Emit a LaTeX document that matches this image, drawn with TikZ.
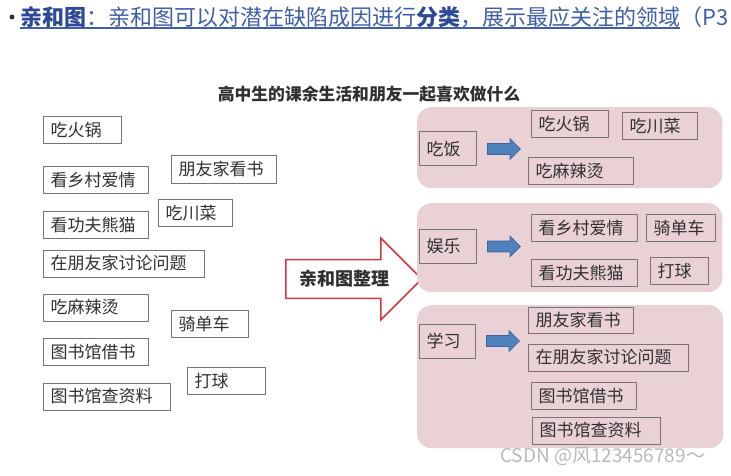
\documentclass[tikz,border=0pt]{standalone}
\usepackage{fontspec}
\setmainfont{Noto Sans CJK SC}
\usetikzlibrary{positioning,shapes.arrows}

\definecolor{headblue}{HTML}{3F5EAA}
\definecolor{headdark}{HTML}{2C4896}
\definecolor{panelpink}{HTML}{E9D1D5}
\definecolor{boxgray}{HTML}{7A7376}
\definecolor{inkgray}{HTML}{303030}
\definecolor{arrowblue}{HTML}{4F81BD}
\definecolor{arrowedge}{HTML}{3A67A3}
\definecolor{arrowred}{HTML}{D8343C}

\begin{document}
\begin{tikzpicture}[x=1pt, y=-1pt,
    tag/.style={draw=boxgray, line width=1pt, fill=white, anchor=west, text width=#1, inner xsep=7pt, inner ysep=0pt, minimum height=27pt, align=left, text=inkgray, font=\fontsize{17}{17}\selectfont},
    sub/.style={tag=#1, fill=none},
    cat/.style={tag=#1, fill=none, minimum height=34pt},
    panel/.style={fill=panelpink, rounded corners=14pt, anchor=north west, inner sep=0pt},
    bluearrow/.style={single arrow, draw=arrowedge, fill=arrowblue, line width=0.8pt, minimum height=33pt, single arrow head extend=5pt, inner xsep=0pt, inner ysep=5pt, anchor=west}
]
\useasboundingbox (0,0) rectangle (731,476);

% heading line
\node[circle, fill=inkgray, inner sep=0pt, minimum size=5pt] (dot) at (12,17) {};
\node[anchor=west, text=headblue, font=\fontsize{22}{22}\selectfont, inner sep=0pt] (head) at (20,17) {\textcolor{headdark}{\bfseries 亲和图}：亲和图可以对潜在缺陷成因进行\textcolor{headdark}{\bfseries 分类}，展示最应关注的领域};
\node[anchor=west, text=headblue, font=\fontsize{22}{22}\selectfont, inner sep=0pt] (page) at (head.east) {（P3};
\draw[headblue, line width=1.5pt] (head.south west) -- (head.south east);

\node[font=\bfseries\fontsize{16.8}{16.8}\selectfont, text=inkgray] (title) at (369,94) {高中生的课余生活和朋友一起喜欢做什么};

% loose cards
\node[tag=64pt] (lhotpot) at (43,130) {吃火锅};
\node[tag=91pt] (lvillage) at (43,180) {看乡村爱情};
\node[tag=91pt] (lreadhome) at (171,169.5) {朋友家看书};
\node[tag=91pt] (lpanda) at (43,224.5) {看功夫熊猫};
\node[tag=60pt] (lsichuan) at (158,213) {吃川菜};
\node[tag=147pt] (ldiscuss) at (43,263.5) {在朋友家讨论问题};
\node[tag=91pt] (lmalatang) at (43,307.5) {吃麻辣烫};
\node[tag=63pt] (lcycling) at (171,324) {骑单车};
\node[tag=91pt] (lborrow) at (43,352) {图书馆借书};
\node[tag=64pt] (lball) at (187,381) {打球};
\node[tag=113pt] (lresearch) at (43,396.5) {图书馆查资料};

% big arrow
\node[single arrow, draw=arrowred, line width=1.5pt, fill=white, minimum height=136pt, single arrow head extend=21.5pt, inner ysep=10pt, anchor=west, text=inkgray, font=\bfseries\fontsize{18}{18}\selectfont] (sort) at (285,279) {亲和图整理};

% groups
\node[panel, minimum width=305pt, minimum height=81pt] (food) at (417,107) {};
\node[panel, minimum width=305pt, minimum height=89pt] (fun) at (417,203) {};
\node[panel, minimum width=306pt, minimum height=143pt] (study) at (417,305) {};

\node[cat=43pt] (eat) at (419,149) {吃饭};
\node[cat=43pt] (play) at (419,246.5) {娱乐};
\node[cat=42pt] (learn) at (419,341) {学习};
\node[bluearrow, right=10pt of eat] (eatto) {};
\node[bluearrow, right=10pt of play] (playto) {};
\node[bluearrow, right=10pt of learn] (learnto) {};

\node[sub=63pt] (rhotpot) at (531,124) {吃火锅};
\node[sub=61pt] (rsichuan) at (622,126) {吃川菜};
\node[sub=91pt] (rmalatang) at (528,171) {吃麻辣烫};
\node[sub=92pt] (rvillage) at (531,228) {看乡村爱情};
\node[sub=55pt] (rcycling) at (646,227.5) {骑单车};
\node[sub=92pt] (rpanda) at (531,273) {看功夫熊猫};
\node[sub=44pt] (rball) at (650,271) {打球};
\node[sub=91pt, minimum height=26pt] (rreadhome) at (528,320) {朋友家看书};
\node[sub=146pt] (rdiscuss) at (528,357.5) {在朋友家讨论问题};
\node[sub=91pt] (rborrow) at (531,396) {图书馆借书};
\node[sub=114pt] (rresearch) at (532,430.5) {图书馆查资料};

\node[anchor=west, text=gray!55, font=\fontsize{19}{19}\selectfont, inner sep=0pt] (mark) at (500,457) {CSDN @风123456789～};
\end{tikzpicture}
\end{document}
